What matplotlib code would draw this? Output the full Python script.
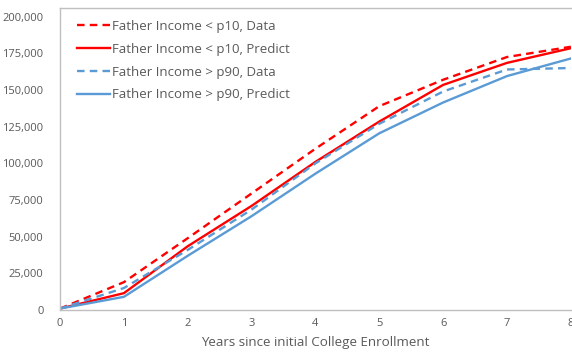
import numpy as np
import matplotlib.pyplot as plt
from matplotlib.ticker import FuncFormatter

plt.rcParams['font.family'] = ['Open Sans', 'DejaVu Sans']

years = [0, 1, 2, 3, 4, 5, 6, 7, 8]
p10_data = [1000, 19000, 49000, 79500, 110000, 139000, 157000, 172500, 179500]
p10_pred = [1000, 11500, 43500, 71000, 101000, 128500, 153500, 168500, 178500]
p90_data = [1000, 15000, 41000, 68500, 100000, 127000, 149000, 164000, 165000]
p90_pred = [1000, 9000, 37000, 64000, 93000, 120500, 141500, 159500, 171500]

red = '#FF0000'
blue = '#5B9BD5'
grey = '#BFBFBF'
txt = '#595959'

fig = plt.figure(figsize=(5.72, 3.58), dpi=100)
ax = fig.add_axes([0.105, 0.134, 0.893, 0.844])

ax.plot(years, p10_data, color=red, lw=1.7, ls=(0, (3.2, 2.2)), label='Father Income < p10, Data')
ax.plot(years, p10_pred, color=red, lw=1.7, label='Father Income < p10, Predict')
ax.plot(years, p90_data, color=blue, lw=1.7, ls=(0, (3.2, 2.2)), label='Father Income > p90, Data')
ax.plot(years, p90_pred, color=blue, lw=1.7, label='Father Income > p90, Predict')

ax.set_xlim(0, 8)
ax.set_ylim(0, 206000)
ax.set_xticks(years)
ax.set_yticks(np.arange(0, 200001, 25000))
ax.yaxis.set_major_formatter(FuncFormatter(lambda v, p: f'{int(v):,}'))
ax.tick_params(length=0, labelsize=8, colors=txt, pad=6)
ax.tick_params(axis='y', pad=12)

for s in ['left', 'top', 'bottom']:
    ax.spines[s].set_color(grey)
    ax.spines[s].set_linewidth(1)
ax.spines['right'].set_visible(False)

ax.set_xlabel('Years since initial College Enrollment', fontsize=9.6, color=txt, labelpad=5)

leg = ax.legend(loc='upper left', frameon=False, fontsize=9.5, handlelength=2.5,
                handletextpad=0.15, labelspacing=0.75, bbox_to_anchor=(0.01, 1.0))
for t in leg.get_texts():
    t.set_color(txt)

fig.savefig('out.png', dpi=100)
